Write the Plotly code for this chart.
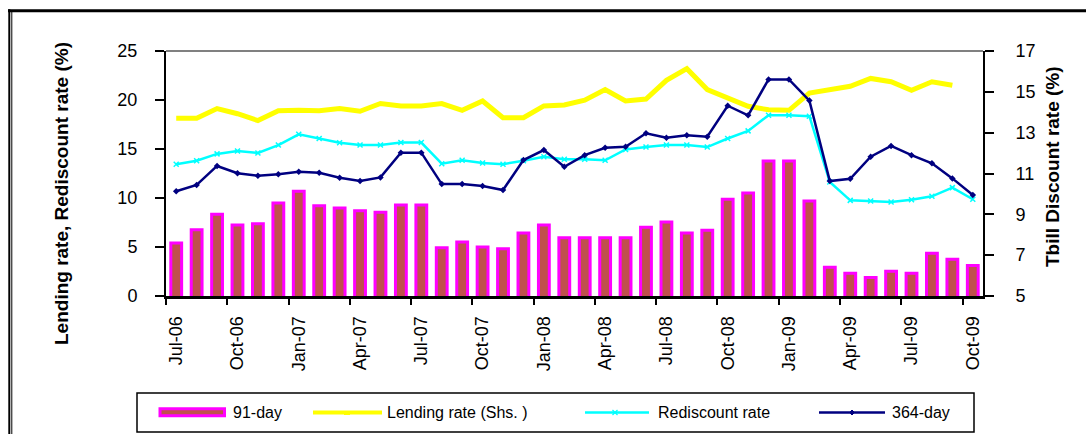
import plotly.graph_objects as go
import pandas as pd

# ---------------- data ----------------
months = list(pd.date_range("2006-07-01", periods=40, freq="MS").strftime("%b-%y"))

# 91-day T-bill discount rate (right axis)
t91 = [7.60, 8.24, 9.01, 8.48, 8.54, 9.55, 10.13, 9.42, 9.31, 9.17,
       9.10, 9.46, 9.46, 7.36, 7.65, 7.40, 7.31, 8.09, 8.48, 7.85,
       7.85, 7.85, 7.85, 8.37, 8.62, 8.08, 8.22, 9.74, 10.04, 11.61,
       11.61, 9.65, 6.41, 6.11, 5.91, 6.21, 6.11, 7.09, 6.80, 6.50]

# Lending rate (Shs.) (left axis)
lending = [18.13, 18.13, 19.13, 18.6, 17.9, 18.9, 18.95, 18.9, 19.13, 18.85,
           19.64, 19.4, 19.4, 19.64, 18.95, 19.9, 18.2, 18.2, 19.4, 19.5,
           19.98, 21.07, 19.9, 20.1, 22.0, 23.2, 21.07, 20.15, 19.36, 19.0,
           18.95, 20.7, 21.0, 21.4, 22.2, 21.86, 21.0, 21.86, 21.5, None]

# Rediscount rate (left axis)
rediscount = [13.45, 13.8, 14.5, 14.8, 14.6, 15.4, 16.5, 16.07, 15.63, 15.4,
              15.4, 15.66, 15.66, 13.5, 13.85, 13.58, 13.45, 13.8, 14.2, 13.96,
              13.96, 13.85, 14.95, 15.2, 15.4, 15.4, 15.2, 16.07, 16.85, 18.45,
              18.45, 18.35, 11.64, 9.76, 9.7, 9.6, 9.83, 10.17, 11.06, 9.87]

# 364-day T-bill discount rate (right axis)
t364 = [10.13, 10.44, 11.37, 11.01, 10.89, 10.96, 11.09, 11.04, 10.79, 10.63,
        10.81, 12.02, 12.02, 10.48, 10.48, 10.39, 10.19, 11.66, 12.15, 11.33,
        11.9, 12.26, 12.31, 12.97, 12.75, 12.87, 12.8, 14.32, 13.85, 15.61,
        15.61, 14.57, 10.63, 10.74, 11.82, 12.35, 11.9, 11.5, 10.76, 9.95]

series_names = ["91-day", "Lending rate (Shs. )", "Rediscount rate", "364-day"]
left_title = "Lending rate, Rediscount rate (%)"
right_title = "Tbill Discount rate (%)"

# ---------------- layout helpers ----------------
W, H = 1086, 434
L, R, T, B = 166, 983, 51, 296
FONT = "Liberation Sans, Arial, sans-serif"


def px(x):
    return (x - L) / (R - L)


def py(y):
    return (B - y) / (B - T)


BAR_FILL = "#C0504D"
BAR_EDGE = "#FF00FF"
YELLOW = "#FFFF00"
CYAN = "#00FFFF"
NAVY = "#000080"

fig = go.Figure()
fig.add_bar(x=months, y=t91, yaxis="y2", name=series_names[0], width=0.53,
            marker=dict(color=BAR_FILL, line=dict(color=BAR_EDGE, width=3)),
            showlegend=False)
fig.add_scatter(x=months, y=lending, yaxis="y", name=series_names[1], mode="lines",
                line=dict(color=YELLOW, width=5), showlegend=False)
fig.add_scatter(x=months, y=rediscount, yaxis="y", name=series_names[2], mode="lines+markers",
                line=dict(color=CYAN, width=2.5),
                marker=dict(symbol="x-thin", size=5, color=CYAN, line=dict(color=CYAN, width=1.5)),
                showlegend=False)
fig.add_scatter(x=months, y=t364, yaxis="y2", name=series_names[3], mode="lines+markers",
                line=dict(color=NAVY, width=2.5),
                marker=dict(symbol="diamond", size=5, color=NAVY),
                showlegend=False)

shapes = []
# plot-area top border (grey)
shapes.append(dict(type="line", xref="paper", yref="paper", x0=0, x1=1, y0=1, y1=1,
                   line=dict(color="#808080", width=2)))
# outer frame
shapes.append(dict(type="line", xref="paper", yref="paper", x0=px(8), x1=px(1090),
                   y0=py(10.7), y1=py(10.7), line=dict(color="black", width=3)))
shapes.append(dict(type="line", xref="paper", yref="paper", x0=px(9.3), x1=px(9.3),
                   y0=py(9.3), y1=py(440), line=dict(color="black", width=2)))
shapes.append(dict(type="line", xref="paper", yref="paper", x0=px(11.8), x1=px(11.8),
                   y0=py(12), y1=py(440), line=dict(color="black", width=1)))
# legend box
shapes.append(dict(type="rect", xref="paper", yref="paper", x0=px(137), x1=px(974),
                   y0=py(393), y1=py(432), line=dict(color="black", width=1.5),
                   fillcolor="white"))
LY = 412.5
# legend: bar swatch
shapes.append(dict(type="rect", xref="paper", yref="paper", x0=px(160), x1=px(224.5),
                   y0=py(408.8), y1=py(415.8), fillcolor=BAR_FILL,
                   line=dict(color=BAR_EDGE, width=3)))
# legend: lines
for (x0, x1, col, wd) in [(313, 382, YELLOW, 4), (585, 649, CYAN, 2.5), (819, 885, NAVY, 2.5)]:
    shapes.append(dict(type="line", xref="paper", yref="paper", x0=px(x0), x1=px(x1),
                       y0=py(LY), y1=py(LY), line=dict(color=col, width=wd)))
# legend markers
shapes.append(dict(type="line", xref="paper", yref="paper", x0=px(344), x1=px(350),
                   y0=py(LY + 1.5), y1=py(LY + 1.5), line=dict(color=YELLOW, width=2)))
shapes.append(dict(type="path", xref="paper", yref="paper",
                   path="M{},{} L{},{} M{},{} L{},{}".format(px(612.5), py(LY - 2.5), px(617.5), py(LY + 2.5),
                                                           px(612.5), py(LY + 2.5), px(617.5), py(LY - 2.5)),
                   line=dict(color=CYAN, width=1.2)))
shapes.append(dict(type="path", xref="paper", yref="paper",
                   path="M{},{} L{},{} L{},{} L{},{} Z".format(px(852), py(LY - 2.5), px(854.5), py(LY),
                                                             px(852), py(LY + 2.5), px(849.5), py(LY)),
                   fillcolor=NAVY, line=dict(color=NAVY, width=1)))

annotations = []
for name, x in zip(series_names, [231, 385, 656, 890]):
    annotations.append(dict(text=name, xref="paper", yref="paper", x=px(x), y=py(LY),
                            xanchor="left", yanchor="middle", showarrow=False,
                            font=dict(family=FONT, size=16, color="black")))
annotations.append(dict(text="<b>" + left_title + "</b>", xref="paper", yref="paper",
                        x=px(61), y=py(194), textangle=-90, showarrow=False,
                        xanchor="center", yanchor="middle",
                        font=dict(family=FONT, size=19, color="black")))
annotations.append(dict(text="<b>" + right_title + "</b>", xref="paper", yref="paper",
                        x=px(1052), y=py(167), textangle=-90, showarrow=False,
                        xanchor="center", yanchor="middle",
                        font=dict(family=FONT, size=19, color="black")))

fig.update_layout(
    width=W, height=H,
    margin=dict(l=L, r=W - R, t=T, b=H - B, pad=0),
    paper_bgcolor="white", plot_bgcolor="white",
    font=dict(family=FONT, color="black"),
    showlegend=False,
    bargap=0.47,
    shapes=shapes,
    annotations=annotations,
    xaxis=dict(type="category", range=[-0.5, 39.5], tickmode="linear", tick0=0, dtick=3,
               tickson="boundaries", ticks="outside", ticklen=6, tickwidth=2, tickcolor="black",
               tickangle=-90, tickfont=dict(size=18), ticklabelstandoff=10,
               showline=True, linecolor="black", linewidth=3, showgrid=False, zeroline=False),
    yaxis=dict(range=[0, 25], tickmode="linear", tick0=0, dtick=5, ticks="outside", ticklen=9,
               tickwidth=2, tickcolor="black", tickfont=dict(size=18), ticklabelstandoff=14,
               showline=True, linecolor="black", linewidth=2, showgrid=False, zeroline=False),
    yaxis2=dict(range=[5, 17], tickmode="linear", tick0=5, dtick=2, overlaying="y", side="right",
                ticks="outside", ticklen=9, tickwidth=2, tickcolor="black", tickfont=dict(size=18),
                ticklabelstandoff=18, showline=True, linecolor="black", linewidth=2,
                showgrid=False, zeroline=False),
)

fig.write_html("out.html",
               config={"displayModeBar": False},
               post_script="document.body.style.margin='0px';"
                           "document.documentElement.style.overflow='hidden';")
